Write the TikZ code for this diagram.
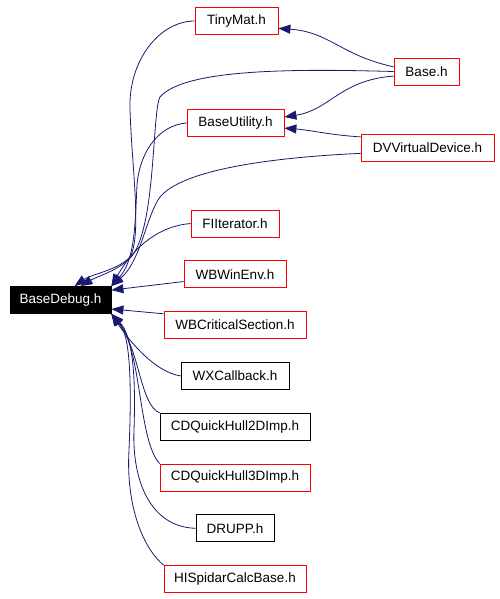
\documentclass[tikz,border=0pt]{standalone}
\usepackage{fontspec}
\setmainfont{Liberation Sans}
\usepackage{tikz}
\usetikzlibrary{arrows.meta,positioning}
\usepackage{xcolor}
\definecolor{edgeblue}{HTML}{191970}

\begin{document}
\begin{tikzpicture}[
    x=1pt, y=-1pt,
    node distance=23pt,
    every node/.style={font=\fontsize{13.5}{15}\selectfont},
    header/.style={rectangle, draw=red, line width=0.8pt, fill=white, minimum height=27pt, inner xsep=4pt, inner ysep=0pt},
    plain/.style={header, draw=black},
    focus/.style={header, draw=black, fill=black, text=white},
    arrow/.style={-{Triangle[length=12pt, width=9pt]}, edgeblue, line width=0.8pt}
]
    \useasboundingbox (0,0) rectangle (500,599);

    % Included file
    \node[focus, minimum width=101pt] (basedebug) at (60.5,300) {BaseDebug.h};

    % Top group
    \node[header, minimum width=83pt] (tinymat) at (236.5,21) {TinyMat.h};
    \node[header, minimum width=65pt] (base) at (426.5,71.5) {Base.h};
    \node[header, minimum width=97pt] (baseutil) at (235.5,123) {BaseUtility.h};
    \node[header, minimum width=133pt] (dvdevice) at (427.5,147.5) {DVVirtualDevice.h};

    % Column of files
    \node[header, minimum width=88pt] (fiiter) at (235,223.5) {FIIterator.h};
    \node[header, minimum width=102pt, below=of fiiter] (wbwinenv) {WBWinEnv.h};
    \node[header, minimum width=142pt, below=of wbwinenv] (wbcrit) {WBCriticalSection.h};
    \node[plain, minimum width=108pt, below=of wbcrit] (wxcallback) {WXCallback.h};
    \node[plain, minimum width=150pt, below=of wxcallback] (cdhull2) {CDQuickHull2DImp.h};
    \node[header, minimum width=150pt, below=of cdhull2] (cdhull3) {CDQuickHull3DImp.h};
    \node[plain, minimum width=78pt, below=of cdhull3] (drupp) {DRUPP.h};
    \node[header, minimum width=142pt, below=of drupp] (hispidar) {HISpidarCalcBase.h};

    % Edges between the top files
    \draw[arrow] (base.172) .. controls (340,55) and (330,32) .. (tinymat.-10);
    \draw[arrow] (base.188) .. controls (340,80) and (330,110) .. (baseutil.7);
    \draw[arrow] (dvdevice.171) .. controls (330,135) and (310,130) .. (baseutil.-6);

    % Edges into BaseDebug.h from above
    \draw[arrow] (tinymat.west) .. controls (160,21) and (128,60) .. (130,110)
        .. controls (132,170) and (142,235) .. (130,257)
        .. controls (118,270) and (92,274) .. ([xshift=14pt]basedebug.north);
    \draw[arrow] (base.west) .. controls (300,69) and (185,68) .. (160,97)
        .. controls (152,112) and (156,225) .. (132,256)
        .. controls (120,270) and (98,276) .. ([xshift=20pt]basedebug.north);
    \draw[arrow] (baseutil.west) .. controls (160,125) and (140,150) .. (137,185)
        .. controls (135,225) and (135,260) .. (basedebug.north east);
    \draw[arrow] (dvdevice.185) .. controls (260,158) and (175,172) .. (158,200)
        .. controls (145,222) and (140,262) .. (basedebug.north east);
    \draw[arrow] (fiiter.west) .. controls (160,226) and (135,245) .. (basedebug.north east);

    % Edges into BaseDebug.h from the side
    \draw[arrow] (wbwinenv.188) -- (basedebug.11);
    \draw[arrow] (wbcrit.171) -- (basedebug.-10);

    % Edges into BaseDebug.h from below
    \draw[arrow] (wxcallback.west) .. controls (155,372) and (130,342) .. (basedebug.south east);
    \draw[arrow] (cdhull2.north west) .. controls (140,405) and (140,350) .. (basedebug.south east);
    \draw[arrow] (cdhull3.north west) .. controls (138,440) and (142,350) .. (basedebug.south east);
    \draw[arrow] (drupp.west) .. controls (150,527) and (132,480) .. (134,430)
        .. controls (136,370) and (132,335) .. (basedebug.south east);
    \draw[arrow] (hispidar.north west) .. controls (140,545) and (126,500) .. (129,450)
        .. controls (132,380) and (130,335) .. (basedebug.south east);
\end{tikzpicture}
\end{document}
